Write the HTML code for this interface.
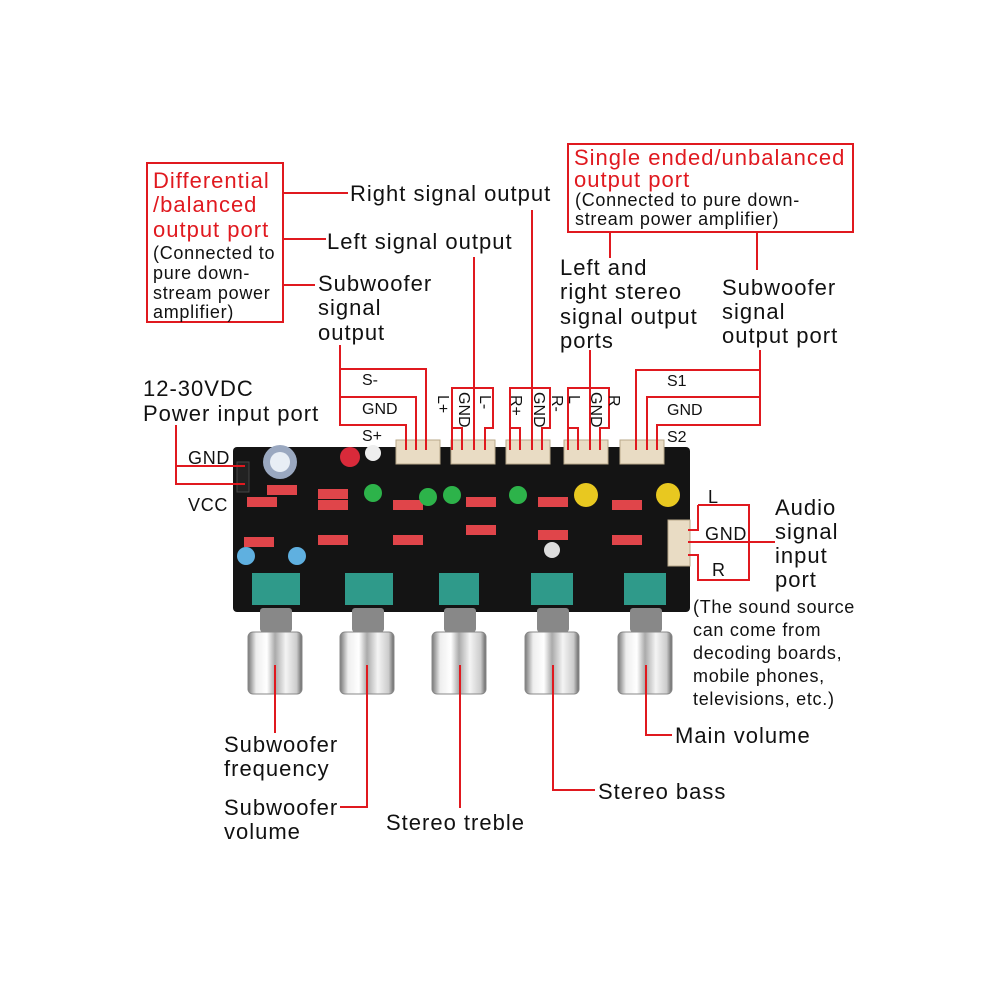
<!DOCTYPE html>
<html><head><meta charset="utf-8"><style>
html,body{margin:0;padding:0;background:#fff;}
svg{display:block}
text{font-family:"Liberation Sans",sans-serif;fill:#111}
.r{fill:#e0191f}
.b text{letter-spacing:1px}
.s text{letter-spacing:0.7px}
</style></head><body>
<svg width="1000" height="1000" viewBox="0 0 1000 1000">
<defs>
<linearGradient id="chrome" x1="0" x2="1">
<stop offset="0" stop-color="#777"/><stop offset="0.15" stop-color="#eee"/><stop offset="0.35" stop-color="#fff"/><stop offset="0.5" stop-color="#aaa"/><stop offset="0.7" stop-color="#f4f4f4"/><stop offset="0.9" stop-color="#ccc"/><stop offset="1" stop-color="#666"/>
</linearGradient>
</defs>
<!-- board -->
<rect x="233" y="447" width="457" height="165" rx="4" fill="#141414"/>
<g fill="#e0454a">
<rect x="247" y="497" width="30" height="10"/><rect x="267" y="485" width="30" height="10"/><rect x="244" y="537" width="30" height="10"/>
<rect x="318" y="489" width="30" height="10"/><rect x="318" y="500" width="30" height="10"/><rect x="318" y="535" width="30" height="10"/>
<rect x="393" y="500" width="30" height="10"/><rect x="393" y="535" width="30" height="10"/>
<rect x="466" y="497" width="30" height="10"/><rect x="466" y="525" width="30" height="10"/>
<rect x="538" y="497" width="30" height="10"/><rect x="538" y="530" width="30" height="10"/>
<rect x="612" y="500" width="30" height="10"/><rect x="612" y="535" width="30" height="10"/>
</g>
<circle cx="280" cy="462" r="17" fill="#9aa8c0"/><circle cx="280" cy="462" r="10" fill="#e8eef5"/>
<circle cx="350" cy="457" r="10" fill="#d92a3a"/><circle cx="373" cy="453" r="8" fill="#eee"/>
<circle cx="373" cy="493" r="9" fill="#2db34a"/><circle cx="428" cy="497" r="9" fill="#2db34a"/><circle cx="452" cy="495" r="9" fill="#2db34a"/><circle cx="518" cy="495" r="9" fill="#2db34a"/>
<circle cx="586" cy="495" r="12" fill="#e8c820"/><circle cx="668" cy="495" r="12" fill="#e8c820"/>
<circle cx="246" cy="556" r="9" fill="#5fb0e0"/><circle cx="297" cy="556" r="9" fill="#5fb0e0"/>
<circle cx="552" cy="550" r="8" fill="#ddd"/>
<rect x="237" y="462" width="12" height="30" fill="#222" stroke="#444"/>
<!-- connectors -->
<g fill="#e9dcc4" stroke="#b9a98a">
<rect x="396" y="440" width="44" height="24"/><rect x="451" y="440" width="44" height="24"/><rect x="506" y="440" width="44" height="24"/><rect x="564" y="440" width="44" height="24"/><rect x="620" y="440" width="44" height="24"/>
<rect x="668" y="520" width="22" height="46"/>
</g>
<!-- pots -->
<g>
<rect x="252" y="573" width="48" height="32" fill="#2f9a8a"/><rect x="345" y="573" width="48" height="32" fill="#2f9a8a"/><rect x="439" y="573" width="40" height="32" fill="#2f9a8a"/><rect x="531" y="573" width="42" height="32" fill="#2f9a8a"/><rect x="624" y="573" width="42" height="32" fill="#2f9a8a"/>
</g>
<g fill="#888">
<rect x="260" y="608" width="32" height="24" rx="3"/><rect x="352" y="608" width="32" height="24" rx="3"/><rect x="444" y="608" width="32" height="24" rx="3"/><rect x="537" y="608" width="32" height="24" rx="3"/><rect x="630" y="608" width="32" height="24" rx="3"/>
</g>
<g fill="url(#chrome)" stroke="#888">
<rect x="248" y="632" width="54" height="62" rx="5"/><rect x="340" y="632" width="54" height="62" rx="5"/><rect x="432" y="632" width="54" height="62" rx="5"/><rect x="525" y="632" width="54" height="62" rx="5"/><rect x="618" y="632" width="54" height="62" rx="5"/>
</g>
<!-- red lines -->
<g stroke="#e0191f" stroke-width="2" fill="none">
<rect x="147" y="163" width="136" height="159"/>
<rect x="568" y="144" width="285" height="88"/>
<path d="M283 193H348M283 239H326M283 285H315"/>
<path d="M532 210V450M474 257V450"/>
<path d="M340 345V425H406V450M340 369H426V450M340 397H416V450"/>
<path d="M452 450V428V388H493V428H485V450M452 428H462V450"/>
<path d="M510 450V388H550V428H542V450M510 428H520V450"/>
<path d="M568 450V388H609V428H600V450M568 428H578V450M590 350V450"/>
<path d="M610 232V258M757 232V270"/>
<path d="M760 350V425H657V450M760 370H636V450M760 397H647V450"/>
<path d="M176 425V484H245M176 466H245"/>
<path d="M698 505H749V580H698V555H688M698 505V530H688M688 542H775"/>
<path d="M646 665V735H672M553 665V790H595M460 665V808M367 665V807H340M275 665V733"/>
</g>
<!-- labels -->
<g font-size="22" class="b">
<text x="153" y="188" class="r">Differential</text>
<text x="153" y="212" class="r">/balanced</text>
<text x="153" y="237" class="r">output port</text>
</g>
<g font-size="18" class="s">
<text x="153" y="259">(Connected to</text>
<text x="153" y="279">pure down-</text>
<text x="153" y="299">stream power</text>
<text x="153" y="318">amplifier)</text>
</g>
<g font-size="22" class="b">
<text x="574" y="165" class="r">Single ended/unbalanced</text>
<text x="574" y="187" class="r">output port</text>
</g>
<g font-size="18" class="s">
<text x="575" y="206">(Connected to pure down-</text>
<text x="575" y="225">stream power amplifier)</text>
</g>
<g font-size="22" class="b">
<text x="350" y="201">Right signal output</text>
<text x="327" y="249">Left signal output</text>
<text x="318" y="291">Subwoofer</text><text x="318" y="315">signal</text><text x="318" y="340">output</text>
<text x="560" y="275">Left and</text><text x="560" y="299">right stereo</text><text x="560" y="324">signal output</text><text x="560" y="348">ports</text>
<text x="722" y="295">Subwoofer</text><text x="722" y="319">signal</text><text x="722" y="343">output port</text>
<text x="143" y="396">12-30VDC</text><text x="143" y="421">Power input port</text>
<text x="775" y="515">Audio</text><text x="775" y="539">signal</text><text x="775" y="563">input</text><text x="775" y="587">port</text>
<text x="675" y="743">Main volume</text>
<text x="598" y="799">Stereo bass</text>
<text x="386" y="830">Stereo treble</text>
<text x="224" y="752">Subwoofer</text><text x="224" y="776">frequency</text>
<text x="224" y="815">Subwoofer</text><text x="224" y="839">volume</text>
</g>
<g font-size="18" class="s">
<text x="693" y="613">(The sound source</text><text x="693" y="636">can come from</text><text x="693" y="659">decoding boards,</text><text x="693" y="682">mobile phones,</text><text x="693" y="705">televisions, etc.)</text>
<text x="188" y="464">GND</text><text x="188" y="511">VCC</text>
<text x="708" y="503">L</text><text x="705" y="540">GND</text><text x="712" y="576">R</text>
</g>
<g font-size="16">
<text x="362" y="385">S-</text><text x="362" y="414">GND</text><text x="362" y="441">S+</text>
<text x="667" y="386">S1</text><text x="667" y="415">GND</text><text x="667" y="442">S2</text>
</g>
<g font-size="16">
<text transform="translate(438,395) rotate(90)">L+</text>
<text transform="translate(459,392) rotate(90)">GND</text>
<text transform="translate(480,395) rotate(90)">L-</text>
<text transform="translate(511,395) rotate(90)">R+</text>
<text transform="translate(534,392) rotate(90)">GND</text>
<text transform="translate(552,395) rotate(90)">R-</text>
<text transform="translate(569,395) rotate(90)">L</text>
<text transform="translate(591,392) rotate(90)">GND</text>
<text transform="translate(609,395) rotate(90)">R</text>
</g>
</svg>
</body></html>
